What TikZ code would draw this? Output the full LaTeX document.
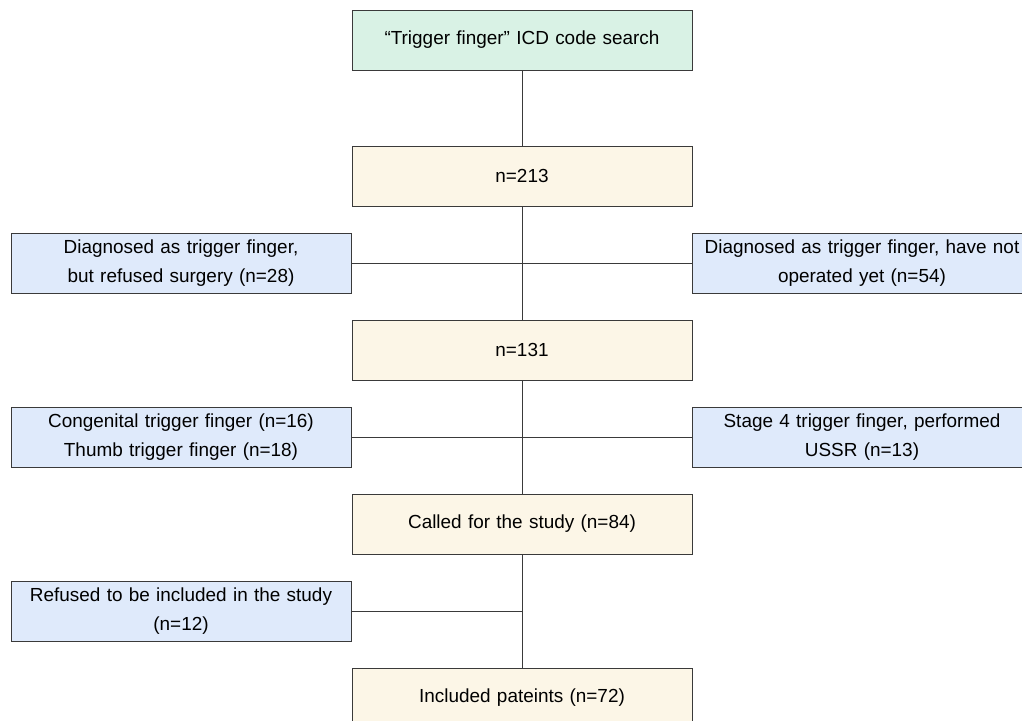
\documentclass[tikz,border=0pt]{standalone}
\usepackage{fontspec}
\setmainfont{Liberation Sans}
\usepackage{tikz}

\definecolor{searchfill}{HTML}{D9F2E5}
\definecolor{countfill}{HTML}{FCF6E7}
\definecolor{outfill}{HTML}{DFEAFB}
\definecolor{edgegray}{HTML}{3A3A3A}

\tikzset{
    box/.style={draw=edgegray, line width=0.75pt, rectangle, minimum width=255pt, minimum height=45pt,
        text width=250pt, align=center, inner sep=0pt,
        font=\fontsize{14.2pt}{22pt}\selectfont},
    searchbox/.style={box, fill=searchfill},
    countbox/.style={box, fill=countfill},
    outbox/.style={box, fill=outfill},
    link/.style={draw=edgegray, line width=0.75pt}
}

\begin{document}
\begin{tikzpicture}[x=0.75pt,y=0.75pt,yscale=-1,xscale=1]
        \useasboundingbox (0,0) rectangle (1022,721);

        % Main column
        \node [searchbox] (search) at (522,40) {``Trigger finger'' ICD code search};
        \node [countbox] (n213) at (522,176) {n=213};
        \node [countbox] (n131) at (522,350) {n=131};
        \node [countbox] (called) at (522,524) {Called for the study (n=84)};
        \node [countbox] (incl) at (522,698) {Included pateints (n=72)};

        % Excluded, left side
        \node [outbox] (refsurg) at (181,263) {Diagnosed as trigger finger,\\but refused surgery (n=28)};
        \node [outbox] (congen) at (181,437) {Congenital trigger finger (n=16)\\Thumb trigger finger (n=18)};
        \node [outbox] (refstudy) at (181,611) {Refused to be included in the study\\(n=12)};

        % Excluded, right side
        \node [outbox] (notop) at (862,263) {Diagnosed as trigger finger, have not\\operated yet (n=54)};
        \node [outbox] (stage) at (862,437) {Stage 4 trigger finger, performed\\USSR (n=13)};

        % Connectors
        \draw [link] (search) -- (n213);
        \draw [link] (n213) -- (n131);
        \draw [link] (n131) -- (called);
        \draw [link] (called) -- (incl);
        \draw [link] (refsurg.east) -- (notop.west);
        \draw [link] (congen.east) -- (stage.west);
        \draw [link] (refstudy.east) -- (refstudy.east -| called.south);

\end{tikzpicture}
\end{document}
